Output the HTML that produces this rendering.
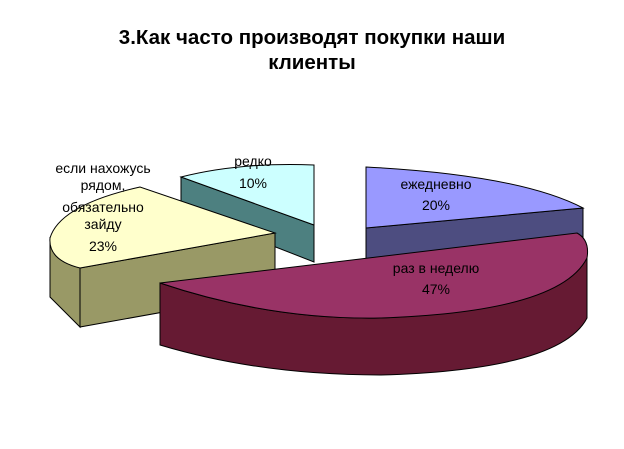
<!DOCTYPE html>
<html><head><meta charset="utf-8"><style>
body{margin:0;background:#fff;width:624px;height:444px;overflow:hidden}
svg text{font-family:"Liberation Sans",Arial,sans-serif}
</style></head><body>
<svg width="624" height="444" viewBox="0 0 624 444" xmlns="http://www.w3.org/2000/svg">
<text x="312" y="44" text-anchor="middle" font-size="20.5" font-weight="bold">3.Как часто производят покупки наши</text>
<text x="312" y="69" text-anchor="middle" font-size="20.5" font-weight="bold">клиенты</text>
<g stroke="#000" stroke-width="1">
<path d="M181,177 L314,225 L314,262 L181,210 Z" fill="#4d8080"/>
<path d="M181,177 Q240,162 314,165 L314,225 Z" fill="#ccffff"/>
<path d="M50,238 L80,268 L80,327 L50,297 Z" fill="#999966"/>
<path d="M80,268 L275,233 L275,292 L80,327 Z" fill="#999966"/>
<path d="M50,238 Q60,205 140,187 L275,233 L80,268 Q48,260 50,238 Z" fill="#ffffcc"/>
<path d="M366,228 L583,208 L583,240 L366,262 Z" fill="#4d4d80"/>
<path d="M366,167 Q520,175 583,208 L366,228 Z" fill="#9999ff"/>
<path d="M160,283 Q270,320 380,318 Q540,312 587,258 L587,318 Q560,370 380,375 Q260,375 160,345 Z" fill="#661a33"/>
<path d="M160,283 L577,233 Q590,240 587,258 Q560,312 380,318 Q270,320 160,283 Z" fill="#993366"/>
</g>
<g font-size="14" text-anchor="middle" fill="#000">
<text x="103" y="173">если нахожусь</text>
<text x="103" y="190">рядом,</text>
<text x="103" y="212">обязательно</text>
<text x="103" y="229">зайду</text>
<text x="103" y="251">23%</text>
<text x="253" y="166">редко</text>
<text x="253" y="188">10%</text>
<text x="436" y="189">ежедневно</text>
<text x="436" y="210">20%</text>
<text x="436" y="273">раз в неделю</text>
<text x="436" y="294">47%</text>
</g>
</svg>
</body></html>
